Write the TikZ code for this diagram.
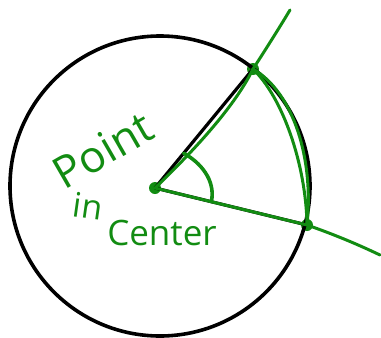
\documentclass[tikz,border=0pt]{standalone}
\usepackage{fontspec}
\setsansfont{Open Sans}
\usetikzlibrary{calc}
\definecolor{Pen}{RGB}{18,140,18}

\begin{document}
\begin{tikzpicture}[x=1pt,y=-1pt,
    rim/.style={draw=black,line width=3.6pt},
    ray/.style={draw=black,line width=3.2pt},
    ink/.style={draw=Pen,line width=3pt,line cap=round,line join=round},
    dot/.style={circle,fill=Pen,inner sep=0pt,minimum size=12pt},
    hand/.style={text=Pen,font=\sffamily,inner sep=0pt}]

  \useasboundingbox (0,0) rectangle (381,338);

  \coordinate (mid) at (160,186);
  \node[dot] (ctr) at (155,188) {};
  \node[dot] (top) at (253,69) {};
  \node[dot] (low) at (307,225) {};
  \coordinate (topend) at (290,10);
  \coordinate (lowend) at (380,255);

  % circle and the two radii
  \draw[rim] (mid) circle[radius=150pt];
  \draw[ray] (ctr.center) -- (top.center);
  \draw[ray] (ctr.center) -- (low.center);

  % green lines through the points
  \draw[ink] (topend) .. controls (278,30) and (264,52) .. (top.center)
             .. controls (238,100) and (205,140) .. (ctr.center);
  \draw[ink] (ctr.center) -- (low.center)
             .. controls (330,233) and (355,243) .. (lowend);

  % arc between the points
  \draw[ink] (top.center) .. controls (293,92) and (314,158) .. (low.center);
  \draw[ink] (top.center) .. controls (283,98) and (306,165) .. (low.center);

  % angle at the centre
  \coordinate (a1) at ($(ctr.center)!45pt!(top.center)$);
  \coordinate (a2) at ($(ctr.center)!58pt!(low.center)$);
  \draw[ink,line width=3.6pt] (a1) .. controls (200,162) and (216,180) .. (a2);

  % label
  \node[hand,rotate=30,font=\sffamily\fontsize{44}{44}\selectfont] (point) at (103,150) {Point};
  \node[hand,rotate=-8,font=\sffamily\fontsize{34}{34}\selectfont] (in) at (88,206) {in};
  \node[hand,font=\sffamily\fontsize{35}{35}\selectfont] (centre) at (162,233) {Center};
\end{tikzpicture}
\end{document}
